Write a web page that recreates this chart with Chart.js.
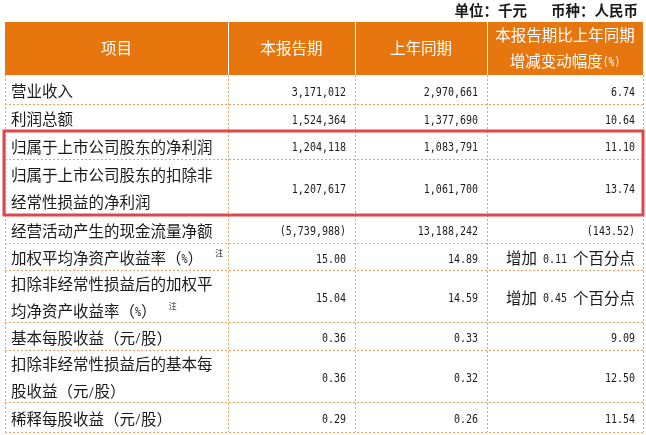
<!DOCTYPE html>
<html><head><meta charset="utf-8">
<script src="https://cdn.jsdelivr.net/npm/chart.js@4"></script>
<style>html,body{margin:0;padding:0;background:#fff}#wrap{width:646px;height:435px}</style>
</head><body><div id="wrap"><canvas id="c"></canvas></div>
<script>
const unitNote = "单位：千元    币种：人民币";
const headers = ["项目", "本报告期", "上年同期", ["本报告期比上年同期", "增减变动幅度(%)"]];
const categories = [
  ["营业收入"], ["利润总额"], ["归属于上市公司股东的净利润"],
  ["归属于上市公司股东的扣除非", "经常性损益的净利润"],
  ["经营活动产生的现金流量净额"], ["加权平均净资产收益率（%）"],
  ["扣除非经常性损益后的加权平", "均净资产收益率（%）"],
  ["基本每股收益（元/股）"], ["扣除非经常性损益后的基本每", "股收益（元/股）"],
  ["稀释每股收益（元/股）"]
];
const currentPeriod = ["3,171,012","1,524,364","1,204,118","1,207,617","(5,739,988)","15.00","15.04","0.36","0.36","0.29"];
const priorPeriod   = ["2,970,661","1,377,690","1,083,791","1,061,700","13,188,242","14.89","14.59","0.33","0.32","0.26"];
const changePct     = ["6.74","10.64","11.10","13.74","(143.52)","增加 0.11 个百分点","增加 0.45 个百分点","9.09","12.50","11.54"];
const footnoteRows = [5, 6];
const highlightRows = [2, 3];

// layout (pixel grid of the table, in scale units)
const colEdges = [5, 228, 355, 487, 643];
const rowEdges = [22, 75, 104, 131, 159, 215, 243, 270, 322, 350, 402, 432];

const tablePlugin = {
  id: 'table',
  afterDraw(chart) {
    const ctx = chart.ctx, xs = chart.scales.x, ys = chart.scales.y;
    const X = v => xs.getPixelForValue(v), Y = v => ys.getPixelForValue(v);
    const cjk = '"Noto Sans CJK SC", sans-serif';
    function txt(s, x, y, align, opts) {
      // mixed text: ASCII digits drawn condensed
      ctx.save();
      ctx.fillStyle = opts.color || '#1a1a1a';
      ctx.textBaseline = 'middle';
      const parts = [];
      for (const ch of s) {
        const ascii = /[0-9,.()%\/ ]/.test(ch) && ch !== '（';
        const last = parts[parts.length - 1];
        if (last && last.a === ascii) last.t += ch; else parts.push({a: ascii, t: ch});
      }
      const size = opts.size || 15.5;
      const sx = 0.8;
      const measure = p => {
        if (p.a) { ctx.font = (opts.numSize || 12.5) + 'px "DejaVu Sans Mono"'; return ctx.measureText(p.t).width * sx; }
        ctx.font = (opts.bold ? 'bold ' : '') + size + 'px ' + cjk; return ctx.measureText(p.t).width;
      };
      const total = parts.reduce((a, p) => a + measure(p), 0);
      let cx = align === 'right' ? x - total : align === 'center' ? x - total / 2 : x;
      for (const p of parts) {
        const w = measure(p);
        if (p.a) {
          ctx.save(); ctx.translate(cx, y); ctx.scale(sx, 1);
          ctx.font = (opts.numSize || 12.5) + 'px "DejaVu Sans Mono"';
          ctx.fillText(p.t, 0, 1); ctx.restore();
        } else {
          ctx.font = (opts.bold ? 'bold ' : '') + size + 'px ' + cjk;
          ctx.fillText(p.t, cx, y);
        }
        cx += w;
      }
      ctx.restore();
    }
    // unit note
    txt(unitNote, X(638), Y(10), 'right', {size: 14.5, bold: true});
    // header
    ctx.fillStyle = '#E8760F';
    ctx.fillRect(X(colEdges[0]), Y(rowEdges[0]), X(colEdges[4]) - X(colEdges[0]), Y(rowEdges[1]) - Y(rowEdges[0]));
    ctx.strokeStyle = '#ffffff'; ctx.lineWidth = 1;
    for (let i = 1; i < 4; i++) { ctx.beginPath(); ctx.moveTo(X(colEdges[i]) + 0.5, Y(rowEdges[0])); ctx.lineTo(X(colEdges[i]) + 0.5, Y(rowEdges[1])); ctx.stroke(); }
    headers.forEach((h, i) => {
      const cx = (X(colEdges[i]) + X(colEdges[i + 1])) / 2, cy = (Y(rowEdges[0]) + Y(rowEdges[1])) / 2;
      const lines = Array.isArray(h) ? h : [h];
      lines.forEach((l, k) => txt(l, cx, cy + (k - (lines.length - 1) / 2) * 26, 'center', {color: '#fff', size: 15.5, numSize: 12}));
    });
    // grid dashed
    ctx.save(); ctx.strokeStyle = '#F0A060'; ctx.setLineDash([2, 2]); ctx.lineWidth = 1;
    for (let r = 2; r < rowEdges.length; r++) { const y = Math.round(Y(rowEdges[r])) + 0.5; ctx.beginPath(); ctx.moveTo(X(colEdges[0]), y); ctx.lineTo(X(colEdges[4]), y); ctx.stroke(); }
    for (let c = 0; c < colEdges.length; c++) { const x = Math.round(X(colEdges[c])) + 0.5; ctx.beginPath(); ctx.moveTo(x, Y(rowEdges[1])); ctx.lineTo(x, Y(rowEdges[rowEdges.length - 1])); ctx.stroke(); }
    ctx.restore();
    // rows
    categories.forEach((cat, i) => {
      const y0 = Y(rowEdges[i + 1]), y1 = Y(rowEdges[i + 2]), cy = (y0 + y1) / 2 + 2;
      cat.forEach((l, k) => {
        const ly = cy + (k - (cat.length - 1) / 2) * 27;
        txt(l, X(colEdges[0]) + 6, ly, 'left', {});
        if (footnoteRows.includes(i) && k === cat.length - 1) {
          ctx.save(); ctx.font = '8px ' + cjk; ctx.fillStyle = '#1a1a1a'; ctx.textBaseline = 'middle';
          ctx.save(); ctx.font = '15.5px ' + cjk; ctx.restore();
          const w = (() => { let tw = 0; ctx.font = '15.5px ' + cjk; for (const ch of l) tw += ctx.measureText(ch).width; return tw; })();
          ctx.font = '8px ' + cjk;
          ctx.fillText('注', X(colEdges[0]) + 6 + w + 4, ly - 6); ctx.restore();
        }
      });
      txt(currentPeriod[i], X(colEdges[2]) - 9, cy, 'right', {});
      txt(priorPeriod[i], X(colEdges[3]) - 9, cy, 'right', {});
      txt(changePct[i], X(colEdges[4]) - 8, cy, 'right', {});
    });
    // highlight box
    ctx.save(); ctx.strokeStyle = '#E0474C'; ctx.lineWidth = 3;
    const hy0 = Y(rowEdges[highlightRows[0] + 1]), hy1 = Y(rowEdges[highlightRows[1] + 2]);
    ctx.strokeRect(X(colEdges[0]) - 1, hy0, X(colEdges[4]) - X(colEdges[0]) + 1, hy1 - hy0);
    ctx.restore();
  }
};

new Chart(document.getElementById('c'), {
  type: 'scatter',
  data: { datasets: [{ data: [] }] },
  options: {
    responsive: true, maintainAspectRatio: false, animation: false,
    layout: { padding: 0 },
    plugins: { legend: { display: false }, tooltip: { enabled: false } },
    scales: {
      x: { type: 'linear', min: 0, max: 646, display: false },
      y: { type: 'linear', min: 0, max: 435, reverse: true, display: false }
    }
  },
  plugins: [tablePlugin]
});
</script></body></html>
